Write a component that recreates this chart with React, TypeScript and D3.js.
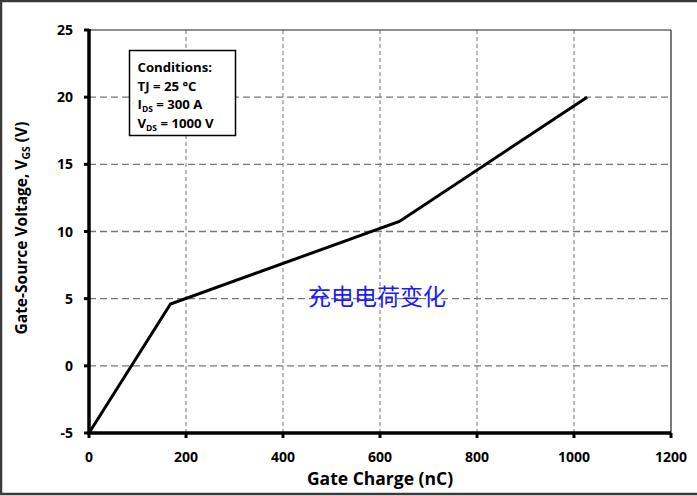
import React from "react";
import * as d3 from "d3";

const chargeNC = [0, 168, 640, 1027];
const vgsV = [-5, 4.6, 10.75, 20];
const xTicks = [0, 200, 400, 600, 800, 1000, 1200];
const yTicks = [-5, 0, 5, 10, 15, 20, 25];
const conditionLines = ["Conditions:", "TJ = 25 °C", "I|DS| = 300 A", "V|DS| = 1000 V"];
const annotation = "充电电荷变化";

const W = 697;
const H = 496;
const FONT = "'Open Sans', Lato, 'Liberation Sans', sans-serif";

export default function App() {
  const x = d3.scaleLinear().domain([0, 1200]).range([89, 671]);
  const y = d3.scaleLinear().domain([-5, 25]).range([433, 30]);
  const line = d3
    .line<number>()
    .x((_, i) => x(chargeNC[i]))
    .y((d) => y(d));

  const renderCond = (s: string) => {
    const parts = s.split("|");
    if (parts.length === 1) return s;
    return (
      <>
        {parts[0]}
        <tspan fontSize={8.5} dy={3}>{parts[1]}</tspan>
        <tspan dy={-3}>{parts[2]}</tspan>
      </>
    );
  };

  return (
    <div style={{ position: "absolute", left: 0, top: 0 }}>
      <svg width={W} height={H} style={{ display: "block", background: "#fff" }}>
        <rect x={1} y={1} width={W + 10} height={H - 3} fill="#fff" stroke="#3a3a3a" strokeWidth={2.5} />
        {/* vertical grid */}
        {xTicks.slice(1, -1).map((t) => (
          <line key={"vx" + t} x1={x(t)} x2={x(t)} y1={y(25)} y2={y(-5)} stroke="#777" strokeWidth={1} strokeDasharray="4,3" />
        ))}
        {/* horizontal grid */}
        {yTicks.slice(1, -1).map((t) => (
          <line key={"hy" + t} x1={x(0)} x2={x(1200)} y1={y(t)} y2={y(t)} stroke="#777" strokeWidth={1.3} strokeDasharray="7,4" />
        ))}
        {/* top and right borders */}
        <line x1={x(0)} x2={x(1200)} y1={y(25)} y2={y(25)} stroke="#222" strokeWidth={1.2} />
        <line x1={x(1200)} x2={x(1200)} y1={y(25)} y2={y(-5)} stroke="#222" strokeWidth={1.2} />
        {/* data line */}
        <path d={line(vgsV) || ""} fill="none" stroke="#000" strokeWidth={3} strokeLinejoin="miter" />
        {/* axes */}
        <line x1={x(0)} x2={x(0)} y1={y(25) - 1} y2={y(-5) + 1.5} stroke="#000" strokeWidth={3.5} />
        <line x1={x(0) - 1.5} x2={x(1200)} y1={y(-5)} y2={y(-5)} stroke="#000" strokeWidth={3.5} />
        {yTicks.map((t) => (
          <line key={"yt" + t} x1={x(0) - 5} x2={x(0)} y1={y(t)} y2={y(t)} stroke="#000" strokeWidth={3} />
        ))}
        {xTicks.map((t) => (
          <line key={"xt" + t} x1={x(t)} x2={x(t)} y1={y(-5)} y2={y(-5) + 5} stroke="#000" strokeWidth={3} />
        ))}
        {yTicks.map((t) => (
          <text key={"yl" + t} x={x(0) - 16} y={y(t)} dy="0.36em" textAnchor="end" fontFamily={FONT} fontWeight="bold" fontSize={14} fill="#000">
            {t}
          </text>
        ))}
        {xTicks.map((t) => (
          <text key={"xl" + t} x={x(t)} y={y(-5) + 29} textAnchor="middle" fontFamily={FONT} fontWeight="bold" fontSize={14} fill="#000">
            {t}
          </text>
        ))}
        <text x={380} y={485} textAnchor="middle" fontFamily={FONT} fontWeight="bold" fontSize={17.5} fill="#000">
          Gate Charge (nC)
        </text>
        <text transform={`translate(27,${228}) rotate(-90)`} textAnchor="middle" fontFamily={FONT} fontWeight="bold" fontSize={15.5} fill="#000">
          Gate-Source Voltage, V<tspan fontSize={10.5} dy={3}>GS</tspan>
          <tspan dy={-3}> (V)</tspan>
        </text>
        {/* conditions box */}
        <rect x={129.5} y={50.5} width={106} height={85} fill="#fff" stroke="#000" strokeWidth={1.5} />
        {conditionLines.map((s, i) => (
          <text key={"c" + i} x={137.5} y={72 + i * 18.7} fontFamily={FONT} fontWeight="bold" fontSize={13.2} fill="#000">
            {renderCond(s)}
          </text>
        ))}
        <text x={377} y={305} textAnchor="middle" fontFamily="'Noto Sans CJK SC', sans-serif" fontSize={23} fill="#1a1aff">
          {annotation}
        </text>
      </svg>
    </div>
  );
}
